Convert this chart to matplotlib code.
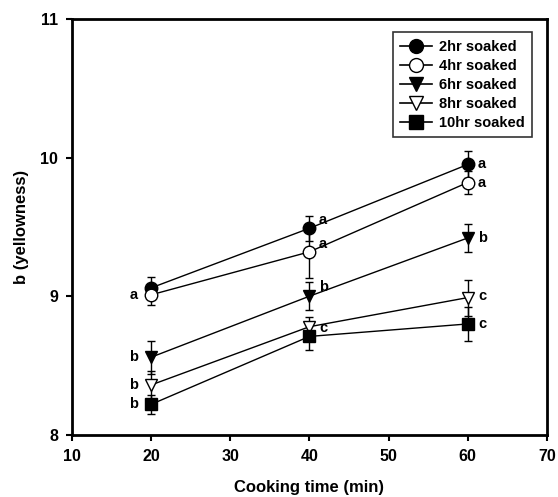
import matplotlib
matplotlib.use("Agg")
import matplotlib.pyplot as plt
from matplotlib.lines import Line2D

plt.rcParams['font.family'] = ['Liberation Sans', 'DejaVu Sans']
plt.rcParams['font.weight'] = 'bold'

time = [20, 40, 60]
labels = ['2hr soaked', '4hr soaked', '6hr soaked', '8hr soaked', '10hr soaked']
b2 = [9.06, 9.49, 9.95]
b4 = [9.01, 9.32, 9.82]
b6 = [8.56, 9.00, 9.42]
b8 = [8.36, 8.78, 8.99]
b10 = [8.22, 8.71, 8.80]
e2 = [0.08, 0.09, 0.10]
e4 = [0.07, 0.19, 0.08]
e6 = [0.12, 0.10, 0.10]
e8 = [0.10, 0.07, 0.13]
e10 = [0.07, 0.10, 0.12]

series = [b2, b4, b6, b8, b10]
errors = [e2, e4, e6, e8, e10]
markers = ['o', 'o', 'v', 'v', 's']
faces = ['black', 'white', 'black', 'white', 'black']

fig = plt.figure(figsize=(5.58, 4.97), dpi=100)
ax = fig.add_axes([0.129, 0.125, 0.851, 0.837])

handles = []
for vals, err, m, fc, lab in zip(series, errors, markers, faces, labels):
    ax.errorbar(time, vals, yerr=err, color='black', marker=m, markersize=9,
                markerfacecolor=fc, markeredgecolor='black', linewidth=1,
                elinewidth=1, capsize=3)
    handles.append(Line2D([], [], color='black', marker=m, markersize=10,
                          markerfacecolor=fc, markeredgecolor='black',
                          linewidth=1.2, label=lab))

# significance letters
ax.text(18.3, 9.01, 'a', ha='right', va='center', fontsize=10.5)
ax.text(18.3, 8.56, 'b', ha='right', va='center', fontsize=10.5)
ax.text(18.3, 8.36, 'b', ha='right', va='center', fontsize=10.5)
ax.text(18.3, 8.22, 'b', ha='right', va='center', fontsize=10.5)
ax.text(41.2, 9.55, 'a', ha='left', va='center', fontsize=10.5)
ax.text(41.2, 9.38, 'a', ha='left', va='center', fontsize=10.5)
ax.text(41.2, 9.07, 'b', ha='left', va='center', fontsize=10.5)
ax.text(41.2, 8.77, 'c', ha='left', va='center', fontsize=10.5)
ax.text(61.3, 9.95, 'a', ha='left', va='center', fontsize=10.5)
ax.text(61.3, 9.82, 'a', ha='left', va='center', fontsize=10.5)
ax.text(61.3, 9.42, 'b', ha='left', va='center', fontsize=10.5)
ax.text(61.3, 9.00, 'c', ha='left', va='center', fontsize=10.5)
ax.text(61.3, 8.80, 'c', ha='left', va='center', fontsize=10.5)

ax.set_xlim(10, 70)
ax.set_ylim(8, 11)
ax.set_xticks([10, 20, 30, 40, 50, 60, 70])
ax.set_yticks([8, 9, 10, 11])
ax.tick_params(direction='out', width=1.5, length=4, labelsize=11.5, pad=6)
for s in ax.spines.values():
    s.set_linewidth(2)
ax.set_xlabel('Cooking time (min)', fontsize=12, fontweight='bold', labelpad=12)
ax.set_ylabel('b (yellowness)', fontsize=12, fontweight='bold', labelpad=8)

leg = ax.legend(handles=handles, loc='upper right', fontsize=10.5, frameon=True,
                fancybox=False, edgecolor='black', handlelength=2.2,
                borderpad=0.5, labelspacing=0.35, handletextpad=0.5,
                bbox_to_anchor=(0.985, 0.985))
leg.get_frame().set_linewidth(1.2)

fig.savefig('out.png', dpi=100)
